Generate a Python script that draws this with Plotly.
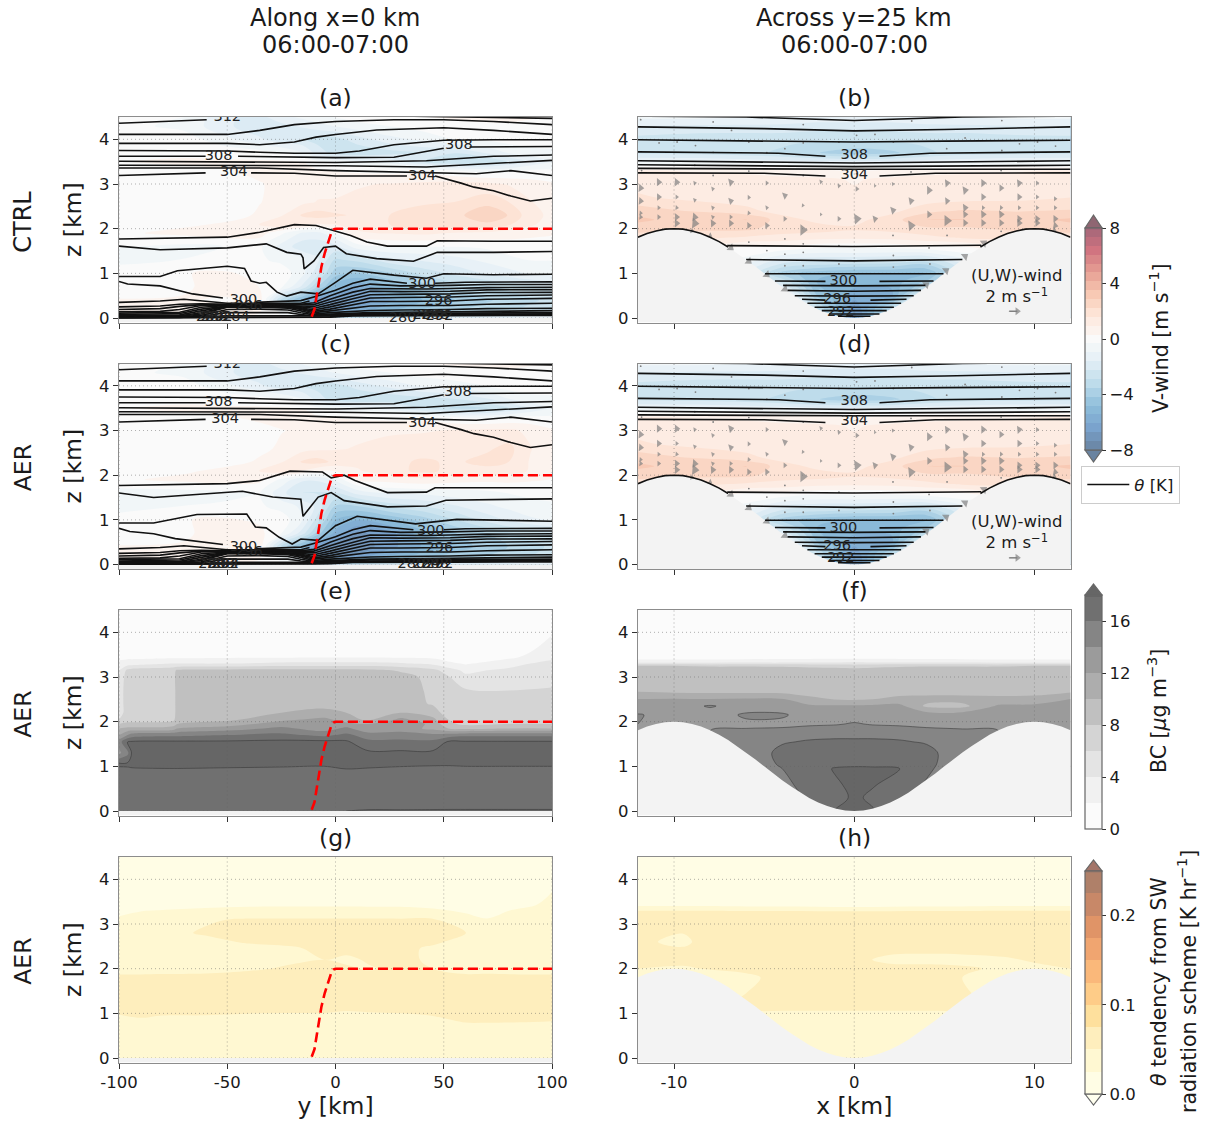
import plotly.graph_objects as go

W, H = 1207, 1124
FONT = "DejaVu Sans"
INK = "#1a1a1a"

# ---------- axes layout ----------
COL_X = [(119, 552), (638, 1070.5)]
ROW_TOP = [117, 363.5, 610, 857]
ROW_H = 205.5
Z_TICKS = [0, 1, 2, 3, 4]
Y_TICKS = [-100, -50, 0, 50, 100]
Y_TICK_TEXT = ["-100", "-50", "0", "50", "100"]
X_TICKS = [-10, 0, 10]
X_TICK_TEXT = ["-10", "0", "10"]
PANEL_NAMES = ["(a)", "(b)", "(c)", "(d)", "(e)", "(f)", "(g)", "(h)"]
ROW_NAMES = ["CTRL", "AER", "AER", "AER"]

# ---------- terrain and ridge ----------
TERRAIN_X = [-12, -11.5, -11, -10.5, -10, -9.5, -9, -8.5, -8, -7.5, -7, -6.5, -6, -5.5, -5, -4.5, -4, -3.5, -3, -2.5, -2, -1.5, -1, -0.5,
             0, 0.5, 1, 1.5, 2, 2.5, 3, 3.5, 4, 4.5, 5, 5.5, 6, 6.5, 7, 7.5, 8, 8.5, 9, 9.5, 10, 10.5, 11, 11.5, 12]
TERRAIN_Z = [1.81, 1.89, 1.95, 1.99, 2.0, 1.99, 1.95, 1.89, 1.81, 1.71, 1.59, 1.45, 1.31, 1.16, 1.0, 0.84, 0.69, 0.55, 0.41, 0.29, 0.19, 0.11, 0.05, 0.01,
             0.0, 0.01, 0.05, 0.11, 0.19, 0.29, 0.41, 0.55, 0.69, 0.84, 1.0, 1.16, 1.31, 1.45, 1.59, 1.71, 1.81, 1.89, 1.95, 1.99, 2.0, 1.99, 1.95, 1.89, 1.81]
RIDGE_Y = [-11, -9.7, -8.7, -6.5, -5, -3.5, -2, -1, 0, 100]
RIDGE_Z = [0.03, 0.2, 0.5, 1.15, 1.45, 1.7, 1.9, 1.98, 2.0, 2.0]

# ---------- V-wind, along-valley sections ----------
Y_V = [-100, -70, -50, -35, -25, -15, -8, 0, 10, 25, 40, 55, 70, 80, 90, 100]
Z_V = [4.5, 4.3, 4.0, 3.7, 3.5, 3.3, 3.0, 2.6, 2.3, 2.1, 1.9, 1.6, 1.3, 1.0, 0.7, 0.4, 0.2, 0.0]
V_A = [
 [0, -.3, -1.5, -1.8, -1.2, -.8, -.5, -.3, 0, 0, .3, .4, .5, .5, .4, .3],
 [-.1, -.5, -1.5, -2, -1.8, -1.5, -1.2, -.9, -.6, -.3, 0, .1, .2, .2, .1, 0],
 [0, 0, -.8, -1.5, -2, -2.2, -2.5, -2.5, -1.9, -1.2, -.8, -.3, -.2, 0, .1, .1],
 [.1, .2, .1, 0, -.3, -.9, -1.9, -2.5, -2.8, -2.5, -2.2, -2.2, -1.5, -.9, -.6, -.5],
 [.3, .4, .4, .4, .4, .3, -.2, -.5, -.8, -1.2, -2.2, -2.8, -2.8, -2.2, -1.5, -1],
 [.1, .2, .3, .4, .5, .5, .4, .3, .2, .1, .1, -.3, -.6, -.5, -.2, -.2],
 [0, .1, .2, .3, .4, .5, .7, .8, .9, 1, 1.1, 1.2, 1.1, .9, .6, .4],
 [-.1, 0, .1, .3, .5, .8, 1, 1, 1.1, 1.3, 1.5, 1.6, 2, 1.6, 1, .6],
 [-.2, 0, .1, .4, .9, 1.7, 1.9, 1.7, 1.5, 1.6, 1.9, 2, 2.8, 2.2, 1.2, .8],
 [-.2, .2, .4, 1, 1.5, 1.1, .9, 1, 1.1, 1.6, 2.1, 2, 2.1, 1.7, 1.1, .6],
 [.2, .5, .7, .6, -.2, -1.1, -1.2, -.3, .9, 1, 1.1, .9, .8, .6, .5, .4],
 [-.3, -.5, -.3, -.2, -1.2, -2, -2, -1.8, -.6, -.3, -.3, -.3, -.2, 0, 0, 0],
 [-.5, -.3, -.2, -.2, -.5, -.9, -1.5, -3, -2.7, -1.8, -1.5, -1.2, -.8, -.5, -.3, -.3],
 [0, .3, .4, .1, .1, -.8, -2.1, -3.9, -4.2, -3.6, -2.7, -2.1, -1.5, -1.2, -.9, -.8],
 [-.3, .2, .7, .3, -.2, -1.8, -3.6, -5.1, -6, -4.8, -3.9, -3.3, -3, -2.7, -2.4, -2.1],
 [.4, .4, .2, .7, -3, -5.1, -6.6, -6.9, -6.6, -5.6, -4.8, -4.2, -3.6, -3.3, -3, -2.7],
 [.9, .8, .7, .4, -.6, -2.1, -5.4, -6.6, -6, -5, -4.2, -3.6, -3.3, -3, -2.7, -2.4],
 [.4, .4, .4, .2, -.3, -.9, -2.2, -3, -3, -2.4, -2.1, -1.8, -1.5, -1.5, -1.2, -1.2],
]
V_C = [
 [0, -.3, -1.5, -1.8, -1.3, -.9, -.6, -.3, 0, 0, .3, .4, .5, .5, .4, .4],
 [-.1, -.5, -1.5, -2, -1.8, -1.5, -1.2, -.9, -.6, -.3, 0, .1, .2, .2, .1, 0],
 [0, 0, -.8, -1.5, -2, -2.3, -2.5, -2.5, -2, -1.4, -.9, -.6, -.3, 0, .1, .1],
 [.1, .2, .1, 0, -.3, -.9, -1.9, -2.6, -2.9, -2.8, -2.5, -2.3, -1.7, -1, -.6, -.5],
 [.3, .4, .4, .4, .4, .3, -.2, -.5, -.8, -1.2, -2.3, -3, -2.9, -2.3, -1.5, -1],
 [.1, .2, .3, .4, .5, .5, .4, .3, .2, .1, .1, -.3, -.5, -.3, -.2, -.2],
 [-.1, 0, .1, .2, .3, .4, .5, .7, .8, .9, .9, 1, 1.1, 1.1, .8, .4],
 [-.2, -.1, 0, .2, .4, .7, .8, .9, 1, 1.1, 1.3, 1.3, 1.5, 1.8, 1, .5],
 [-.3, -.1, .1, .4, .9, 1.7, 1.9, 1.4, 1.1, 1.4, 1.7, 1.5, 1.8, 1.6, .9, .5],
 [-.2, .2, .5, 1, 1.4, .9, .4, .4, .9, 1.3, 1.8, 1.4, 1.4, 1.3, .9, .5],
 [.2, .5, .7, .5, -.5, -1.5, -1.5, -.8, .5, .6, .8, .6, .5, .5, .4, .3],
 [-.6, -.6, -.5, -.3, -1.4, -2.3, -2.3, -2.3, -1.4, -.9, -.8, -.6, -.5, -.3, -.2, 0],
 [-.6, -.3, -.2, -.2, -.6, -1.1, -1.8, -3.6, -3.6, -2.7, -2.3, -1.7, -1.1, -.8, -.5, -.5],
 [0, .3, .4, .2, .1, -1, -2.6, -4.8, -5.4, -4.8, -3.9, -2.9, -2, -1.5, -1.1, -.9],
 [-.3, .2, .7, .5, -.3, -2, -3.9, -5.7, -6.9, -6.3, -5.1, -4.2, -3.5, -3, -2.6, -2.3],
 [.4, .4, .3, .7, -3, -5.1, -6.6, -7.2, -7.2, -6.3, -5.4, -4.5, -3.9, -3.5, -3.2, -2.7],
 [.9, .8, .7, .4, -.6, -2.1, -5.4, -7, -6.6, -5.4, -4.5, -3.9, -3.5, -3.2, -2.9, -2.4],
 [.4, .4, .4, .2, -.3, -.9, -2.2, -3, -3, -2.4, -2.1, -1.8, -1.5, -1.5, -1.2, -1.2],
]

# ---------- V-wind, across-valley section ----------
X_V = [-12, -9, -6, -4, -2, 0, 2, 4, 6, 9, 12]
Z_VX = [4.5, 4.2, 3.9, 3.7, 3.5, 3.38, 3.3, 3.1, 2.7, 2.4, 2.2, 2.0, 1.8, 1.6, 1.4, 1.2, 1.0, 0.8, 0.5, 0.25, 0.0]
V_B = [
 [-.8, -.8, -.9, -1, -1.2, -1.2, -1.2, -1, -.9, -.8, -.8],
 [-2, -2.1, -2.1, -2.1, -2.2, -2.2, -2.2, -2.1, -2.1, -2, -2],
 [-2.6, -2.7, -2.8, -2.8, -3, -3.1, -3, -2.8, -2.8, -2.7, -2.6],
 [-2.4, -2.5, -2.7, -3, -3.5, -3.9, -3.7, -3, -2.6, -2.5, -2.4],
 [-1, -1, -1.2, -1.3, -1.5, -1.5, -1.5, -1.3, -1.2, -1, -1],
 [.2, .2, .1, 0, -.2, -.3, -.2, 0, .1, .2, .2],
 [1, .9, .8, .7, .5, .3, .5, .7, .8, .9, 1],
 [1.3, 1.3, 1.2, 1.1, 1.1, .9, 1.1, 1.2, 1.2, 1.2, 1.3],
 [1.7, 1.4, 1.2, 1.1, 1.1, 1.1, 1.1, 1.2, 1.3, 1.4, 1.6],
 [2.6, 2.2, 1.8, 1.3, 1.2, 1.2, 1.4, 2, 2.3, 2.2, 2.3],
 [3, 2.6, 2.9, 1.9, 1.4, 1.4, 1.9, 2.9, 2.9, 2.6, 3],
 [2.6, 2.4, 2.4, 1.9, 1.9, 1.7, 1.8, 2.1, 2.1, 2.4, 2.6],
 [1.8, 1.8, 1.5, 1.4, 1.2, 1.1, 1.2, 1.4, 1.7, 1.8, 1.8],
 [1, 1, .3, .2, -.1, -.1, -.1, .2, .3, 1, 1],
 [0, 0, -.2, -1, -1.3, -1.3, -1.4, -1.5, -.6, 0, 0],
 [0, 0, -1, -2.4, -2.8, -3, -3.1, -3.5, -1.8, 0, 0],
 [0, 0, -1.5, -3.8, -4.6, -4.9, -4.9, -4.9, -2.3, 0, 0],
 [0, 0, -1.5, -2.3, -4.9, -5.2, -5.2, -4, -1.5, 0, 0],
 [0, 0, .4, .2, -4.3, -5.8, -5.8, -.9, 0, 0, 0],
 [0, 0, .4, .4, -3, -6.6, -3.6, .4, 0, 0, 0],
 [0, 0, 0, 0, -3, -7, -3, 0, 0, 0, 0],
]

# ---------- black carbon ----------
Y_E = [-100, -96, -94, -75, -73, -50, -25, -5, 5, 15, 30, 45, 52, 60, 80, 100]
Z_E = [4.5, 3.6, 3.45, 3.3, 3.15, 3.0, 2.7, 2.4, 2.2, 2.05, 1.95, 1.85, 1.7, 1.55, 1.3, 1.05, 0.92, 0.6, 0.1, 0.0]
BC_E = [
 [1] * 16,
 [1, 1, 1, 1, 1, 1, 1, 1, 1, 1, 1, 1, 1, 1, 1.2, 2.6],
 [1.5, 1.5, 1.5, 1.5, 1.5, 1.6, 1.7, 1.8, 1.8, 1.8, 1.7, 1.5, 1, 1, 1.6, 3.2],
 [2.5, 3, 3, 4, 4, 4, 4.5, 4.5, 4.5, 4.5, 4.2, 3.5, 2.5, 1.8, 3, 5],
 [4, 6.5, 7, 7.5, 8.3, 8.5, 8.7, 8.7, 8.6, 8.5, 7.8, 6.6, 5, 3.5, 4.5, 5.3],
 [4.5, 7, 7, 7.2, 9, 9, 9, 9, 9, 8.8, 8.6, 7.5, 6.2, 4.5, 5, 5.3],
 [5, 7, 7, 7, 9, 9, 9, 9, 9, 8.3, 8.5, 7.8, 7, 6.2, 6, 6.2],
 [5, 7, 7, 7, 9, 9, 9.2, 9.4, 9.5, 8.5, 9, 7.8, 7, 6.6, 6.4, 6.4],
 [5, 7, 7, 7, 9, 9, 10, 10.5, 10, 8.8, 10, 9, 7, 6.8, 6.6, 6.5],
 [6, 7.2, 7.2, 7.5, 9, 9.5, 11.5, 12.5, 11, 9.5, 12.5, 10.5, 8, 7, 7, 7],
 [8, 8.5, 8.5, 9, 10, 11, 13, 13.5, 12.5, 12, 13.5, 11.5, 8.5, 7.5, 8, 8],
 [10, 10.5, 10.5, 11, 12, 13, 14.5, 13, 14.5, 12.5, 13, 11.5, 10, 9.5, 10, 10],
 [12, 14, 15, 15.5, 15.5, 16, 16.5, 15.5, 16.5, 15, 15, 14.5, 15, 15.5, 15.5, 15.5],
 [15, 18.2, 18.2, 18.3, 18.3, 18.3, 18.5, 18.5, 18.3, 16.5, 16.5, 16.5, 18.2, 18.2, 18.2, 18.2],
 [13.5, 15.5, 18.3, 18.5, 18.5, 18.5, 18.6, 18.6, 18.5, 18.4, 18.4, 18.4, 18.5, 18.5, 18.5, 18.5],
 [18.4, 18.4, 18.5, 18.6, 18.6, 18.5, 18.4, 18.3, 18.5, 18.4, 18.3, 18.2, 18.2, 18.3, 18.3, 18.3],
 [17.5, 17.6, 17.7, 17.8, 17.8, 17.7, 17.6, 17.5, 17.9, 17.8, 17.6, 17.5, 17.4, 17.5, 17.5, 17.5],
 [17, 17.1, 17.1, 17.2, 17.2, 17.2, 17.3, 17.8, 17.4, 17.3, 17.2, 17.1, 17.1, 17.1, 17.3, 17.5],
 [17, 17, 17.1, 17.2, 17.2, 17.3, 17.7, 17.9, 17.4, 17.3, 17, 17, 17.1, 17.1, 17.1, 17.1],
 [17.2, 17.2, 17.2, 17.2, 17.2, 17.1, 17.3, 17.6, 18, 18.3, 18.4, 18.5, 18.5, 18.5, 18.5, 18.5],
]
X_F = [-12, -10, -8, -6, -4, -2.5, -1, 0, 1, 2.5, 4, 6, 8, 10, 12]
Z_F = [4.5, 3.6, 3.42, 3.33, 3.25, 3.15, 2.7, 2.5, 2.35, 2.15, 1.95, 1.8, 1.55, 1.3, 1.05, 0.95, 0.6, 0.3, 0.0]
BC_F = [
 [1] * 15,
 [1] * 15,
 [1.4, 1.4, 1.4, 1.5, 1.6, 1.6, 1.7, 1.7, 1.7, 1.6, 1.6, 1.5, 1.4, 1.4, 1.4],
 [3.5, 3.5, 3.4, 3.6, 3.6, 3.8, 3.8, 4, 3.8, 3.8, 3.6, 3.6, 3.4, 3.5, 3.5],
 [8.1, 8, 7.8, 7.8, 7.7, 7.4, 7.2, 7, 7.2, 7.6, 7.8, 7.8, 7.8, 8, 8.1],
 [9, 9, 9, 9, 9, 9, 9, 8.8, 9, 9, 9, 9, 9, 9, 9],
 [9.6, 9.2, 9.1, 9, 9, 9, 9, 9, 9, 9, 9, 9, 9, 9.2, 9.4],
 [12.1, 12.2, 12.1, 12.3, 12.2, 10.5, 9.9, 9.8, 10, 10.6, 10.8, 10.8, 10.6, 10.6, 12.1],
 [12.5, 13, 14.2, 13, 12.8, 12.4, 12.3, 12.3, 12.4, 12.6, 9.6, 9.4, 12.3, 12.5, 12.5],
 [14.2, 13, 13, 14.3, 14.3, 13, 13, 13, 13, 13.2, 13.2, 13.2, 13, 12.8, 13.8],
 [14, 13.5, 13.5, 13.6, 13.4, 13.6, 13.8, 14.2, 13.8, 13.6, 13.4, 13.4, 13.4, 13.5, 13.5],
 [14, 14, 14, 14.2, 14.5, 15, 15.2, 15.2, 15.2, 15, 14.5, 14.2, 14, 14, 14],
 [14, 14, 14, 14.5, 15.8, 16.2, 16.3, 16.3, 16.3, 16.2, 15.8, 14.5, 14, 14, 14],
 [14, 14, 14, 14.5, 16.6, 16.8, 16.8, 16.8, 16.8, 17, 16.7, 14.5, 14, 14, 14],
 [14, 14, 14, 14.5, 16.3, 17, 17.4, 17.6, 17.5, 17.2, 16.6, 14.5, 14, 14, 14],
 [14, 14, 14, 14.5, 16, 17, 18.2, 18.3, 18.3, 18.1, 16.4, 14.5, 14, 14, 14],
 [14, 14, 14, 14.5, 15.5, 16.7, 17.8, 18.4, 18.2, 17.2, 15.8, 14.5, 14, 14, 14],
 [14, 14, 14, 14.5, 15.5, 16.2, 17.2, 18.4, 17.6, 16.4, 15.5, 14.5, 14, 14, 14],
 [14, 14, 14, 14.5, 15.5, 16.2, 18.2, 18.4, 18.2, 16.4, 15.5, 14.5, 14, 14, 14],
]

# ---------- shortwave tendency ----------
Y_G = [-100, -90, -80, -60, -40, -20, -5, 5, 15, 30, 45, 60, 70, 85, 100]
Z_G = [4.5, 3.6, 3.42, 3.3, 3.1, 2.8, 2.6, 2.45, 2.2, 2.0, 1.85, 1.3, 1.05, 0.9, 0.75, 0.0]
SW_G = [
 [.012] * 15,
 [.012, .012, .012, .012, .012, .012, .012, .012, .012, .012, .012, .012, .012, .014, .027],
 [.016, .018, .018, .02, .022, .022, .022, .022, .022, .022, .02, .018, .016, .02, .03],
 [.02, .024, .026, .03, .033, .034, .034, .034, .033, .032, .028, .022, .018, .028, .032],
 [.028, .034, .038, .048, .052, .052, .052, .052, .052, .052, .052, .032, .026, .03, .032],
 [.03, .042, .045, .052, .055, .056, .056, .056, .056, .056, .055, .051, .04, .035, .035],
 [.03, .035, .04, .045, .052, .054, .056, .056, .056, .056, .054, .042, .038, .035, .035],
 [.03, .035, .035, .04, .044, .048, .054, .056, .056, .056, .046, .04, .038, .035, .035],
 [.03, .035, .035, .038, .04, .047, .05, .046, .052, .056, .046, .04, .038, .035, .035],
 [.035, .037, .038, .04, .047, .053, .055, .053, .048, .055, .05, .042, .04, .038, .038],
 [.052, .052, .053, .054, .056, .056, .056, .056, .056, .056, .052, .052, .053, .052, .052],
 [.058] * 15,
 [.052, .054, .054, .055, .053, .052, .052, .05, .051, .052, .055, .056, .056, .056, .056],
 [.048, .05, .048, .047, .045, .045, .045, .045, .045, .046, .048, .055, .056, .056, .054],
 [.046, .044, .042, .042, .042, .042, .042, .042, .042, .042, .042, .048, .048, .047, .046],
 [.04] * 15,
]
X_H = [-12, -9.5, -8.5, -6, -4, -2, 0, 2, 4, 6, 8.5, 10, 12]
Z_H = [4.5, 3.45, 3.38, 3.28, 3.0, 2.6, 2.4, 2.2, 2.0, 1.8, 1.1, 0.95, 0.0]
SW_H = [
 [.012] * 13,
 [.013] * 13,
 [.03, .03, .03, .028, .027, .026, .025, .026, .027, .028, .03, .03, .03],
 [.054, .054, .054, .053, .053, .052, .052, .052, .053, .053, .054, .054, .054],
 [.056] * 13,
 [.054, .045, .055, .056, .056, .056, .056, .056, .056, .056, .056, .056, .056],
 [.054, .054, .055, .056, .056, .056, .055, .054, .053, .054, .055, .055, .054],
 [.054, .054, .055, .056, .056, .056, .055, .045, .044, .044, .048, .052, .054],
 [.05, .048, .05, .054, .056, .056, .056, .056, .056, .053, .046, .046, .05],
 [.048, .048, .045, .046, .056, .056, .056, .056, .056, .05, .046, .046, .048],
 [.046, .046, .046, .054, .053, .053, .053, .053, .053, .053, .046, .046, .046],
 [.042] * 13,
 [.042] * 13,
]

# ---------- potential temperature lines, along-valley ----------
TH_UPPER = [
 ([-100, -59.5, None, 20, 50, 73, 100], [4.36, 4.44, None, 4.53, 4.51, 4.49, 4.47]),
 ([-100, -50, -35, -19, 0, 27, 50, 73, 100], [4.11, 4.11, 4.20, 4.33, 4.40, 4.44, 4.44, 4.40, 4.33]),
 ([-100, -50, -35, -19, -9, 0, 19, 50, 73, 100], [3.91, 3.91, 3.88, 3.94, 4.05, 4.11, 4.21, 4.26, 4.20, 4.11]),
 ([-100, -50, -35, -19, 0, 11, 27, 50, 73, 100], [3.75, 3.74, 3.71, 3.69, 3.69, 3.74, 3.88, 3.98, 3.99, 3.99]),
 ([-100, -60, None, -45, -19, 0, 27, 50, None, 62, 100], [3.62, 3.62, None, 3.62, 3.61, 3.59, 3.60, 3.80, None, 3.83, 3.84]),
 ([-100, -35, 0, 42, 58, 73, 100], [3.51, 3.48, 3.48, 3.52, 3.58, 3.62, 3.65]),
 ([-100, -35, 0, 42, 50, 73, 100], [3.42, 3.42, 3.41, 3.38, 3.40, 3.47, 3.53]),
 ([-100, -35, 0, 42, 65, 81, 100], [3.36, 3.36, 3.30, 3.25, 3.23, 3.30, 3.19]),
 ([-100, -60, None, -39, -19, 0, 33, None, 46, 50, 58, 64, 73, 81, 90, 100],
  [3.19, 3.25, None, 3.25, 3.24, 3.18, 3.18, None, 3.18, 3.13, 3.02, 2.93, 2.85, 2.73, 2.62, 2.68]),
]
TH_MID_A = [
 ([-100, -50, -35, -19, -9, 0, 7, 14.5, 24, 42, 47, 73, 100], [1.77, 1.81, 1.92, 2.09, 2.07, 1.94, 1.85, 1.70, 1.61, 1.61, 1.73, 1.72, 1.72]),
 ([-100, -81, -50, -32, -22.5, -16, -15, -14.5, -10, -5.5, 0, 5, 19, 36, 47, 73, 100],
  [1.61, 1.53, 1.57, 1.66, 1.47, 1.43, 1.35, 1.10, 1.28, 1.58, 1.61, 1.44, 1.33, 1.27, 1.47, 1.47, 1.49]),
 ([-100, -81, -73, -50, -42, -39, -35, -32, -27, -22.5, -16, -8, 0, 8, 27, 42, 50, 73, 100],
  [.93, .93, 1.06, 1.16, 1.11, .83, .78, .80, .58, .49, .58, .54, .80, 1.07, .96, .89, .99, .97, .98]),
 ([-100, -96, -81, -66, -52, None, -37, -16, -8, 0, 8, 16, 33, None, 46, 60, 100],
  [.82, .76, .72, .54, .45, None, .35, .39, .50, .62, .78, .87, .78, None, .78, .80, .81]),
]
TH_MID_C = [
 ([-100, -50, -35, -21, -6, -2, 4, 9, 24, 42, 46, 100], [1.77, 1.81, 1.88, 2.09, 2.07, 1.94, 2.0, 1.88, 1.61, 1.62, 1.72, 1.72]),
 ([-100, -84, -43, -29, -16, -15, -8, -2, 4, 24, 42, 51, 100],
  [1.60, 1.50, 1.64, 1.51, 1.46, 1.08, 1.51, 1.61, 1.43, 1.29, 1.31, 1.44, 1.47]),
 ([-100, -84, -64, -41, -37, -32, -26, -20, -16, -8, 0, 10, 37, 56, 100],
  [.93, .93, 1.12, 1.13, .84, .82, .61, .46, .57, .54, .87, 1.08, .91, 1.01, .97]),
 ([-100, -95, -84, -74, -52, None, -37, -16, -8, 0, 8, 16, 36, None, 50, 60, 100],
  [.81, .74, .69, .58, .45, None, .35, .39, .50, .62, .78, .87, .78, None, .78, .80, .81]),
]
LOW_Y_LEFT = [-100, -81, -72, -62, -50, -35, -22, -16, -10]
LOW_Z_LEFT = [
 [.25, .27, .31, .32, .31, .31, .30, .31, .34],
 [.19, .21, .26, .30, .30, .30, .29, .29, .30],
 [.14, .15, .19, .28, .29, .29, .28, .27, .26],
 [.11, .12, .13, .24, .28, .28, .27, .25, .22],
 [.08, .09, .10, .20, .27, .27, .26, .23, .18],
 [.06, .06, .07, .16, .26, .26, .25, .21, .15],
 [.05, .05, .05, .12, .25, .25, .24, .19, .12],
 [.035, .035, .04, .09, .24, .24, .22, .16, .09],
 [.02, .02, .025, .06, .19, .20, .18, .12, .07],
 [.015, .015, .015, .04, .12, .12, .12, .08, .05],
 [.01, .01, .01, .02, .05, .05, .05, .04, .04],
 [.008, .008, .008, .01, .01, .01, .01, .01, .02],
 [.006, .006, .006, .006, .006, .006, .006, .006, .01],
]
TOP_CLUSTER_Y = [-100, -81, -70, -62, -50, -35, -22, -16, -12]
TOP_CLUSTER_Z = [.35, .38, .42, .38, .33, .33, .33, .33, .38]
LOW_Y_RIGHT = [-2.5, 8, 16, 30, 42, 53, 70, 100]
LOW_Z_RIGHT = [
 [.50, .68, .76, .72, .72, .73, .75, .75],
 [.42, .58, .66, .65, .65, .66, .68, .69],
 [.36, .50, .60, .59, .59, .60, .63, .635],
 [.30, .43, .52, .53, .53, .54, .57, .575],
 [.25, .36, .45, .46, .46, .47, .50, .515],
 [.20, .30, .37, .37, .37, .38, .42, .44],
 [.16, .22, .27, .28, .28, .28, .31, .33],
 [.12, .15, .17, .18, .18, .19, .21, .22],
 [.09, .11, .12, .13, .13, .14, .15, .165],
 [.07, .09, .10, .105, .11, .11, .11, .12],
 [.05, .075, .08, .085, .09, .09, .09, .095],
 [.03, .06, .065, .07, .07, .075, .08, .08],
 [.02, .045, .05, .05, .055, .055, .06, .06],
]
LABEL_TEXT_A = ["312", "308", "304", "308", "304", "300", "296", "300", "280", "288", "292", "284", "296", "280", "284", "288", "292"]
LABEL_Y_A = [-50, -54, -47, 57, 40, 40, 47.6, -42.5, -58, -56, -54, -46, -40, 31, 42, 46, 48]
LABEL_Z_A = [4.49, 3.62, 3.25, 3.86, 3.18, .75, .37, .39, .01, .01, .01, .01, .25, .0, .05, .05, .03]
LABEL_TEXT_C = ["312", "308", "304", "308", "304", "300", "296", "300", "280", "288", "292", "284", "296", "280", "284", "288", "292"]
LABEL_Y_C = [-50, -54, -51, 56.5, 40, 44, 48, -42.5, -57, -53, -51, -51, -40, 35, 42, 46, 48]
LABEL_Z_C = [4.49, 3.62, 3.26, 3.86, 3.15, .75, .37, .39, .01, .01, .01, .01, .28, .0, .01, .01, .01]

# ---------- potential temperature lines, across-valley ----------
TH_CROSS = [
 ([-12, -6, 0, 6, 12], [4.52, 4.50, 4.42, 4.50, 4.52]),
 ([-12, -5, 0, 5, 12], [4.28, 4.24, 4.19, 4.22, 4.28]),
 ([-12, -5, 0, 5, 12], [3.99, 3.97, 3.94, 3.96, 3.98]),
 ([-12, -4.2, -1.6, None, 1.4, 4.2, 12], [3.72, 3.69, 3.62, None, 3.62, 3.69, 3.72]),
 ([-12, 0, 12], [3.52, 3.47, 3.52]),
 ([-12, 0, 12], [3.43, 3.39, 3.42]),
 ([-12, 0, 12], [3.35, 3.33, 3.33]),
 ([-12, -5, -1.6, None, 1.4, 4.5, 12], [3.25, 3.24, 3.18, None, 3.18, 3.24, 3.25]),
 ([-7.05, 0, 7.05], [1.62, 1.60, 1.63]),
 ([-6, 0, 6], [1.31, 1.28, 1.31]),
 ([-4.95, 0, 4.95], [.99, .985, .99]),
 ([-4.4, -1.6, None, 1.4, 4.4], [.83, .82, None, .82, .83]),
 ([-3.95, 0, 3.95], [.73, .72, .73]),
 ([-3.7, 0, 3.7], [.62, .60, .62]),
 ([-3.3, 0, 3.3], [.50, .49, .50]),
 ([-2.9, -1.6, None, 0.9, 2.9], [.42, .40, None, .40, .42]),
 ([-2.6, 0, 2.6], [.33, .33, .33]),
 ([-2.2, 0, 2.2], [.24, .24, .24]),
 ([-1.8, 0, 1.8], [.165, .165, .165]),
 ([-1.4, 0, 1.4], [.09, .09, .09]),
 ([-.9, 0, .9], [.04, .04, .04]),
 ([-12, -11.5, -11, -10.5, -10, -9.5, -9, -8.5, -8, -7.5, -7], [1.81, 1.89, 1.95, 1.99, 2.0, 1.99, 1.95, 1.89, 1.81, 1.71, 1.59]),
 ([7, 7.5, 8, 8.5, 9, 9.5, 10, 10.5, 11, 11.5, 12], [1.59, 1.71, 1.81, 1.89, 1.95, 1.99, 2.0, 1.99, 1.95, 1.89, 1.81]),
]
LABEL_TEXT_X = ["308", "304", "300", "296", "292"]
LABEL_X_X = [0, 0, -.6, -.95, -.75]
LABEL_Z_X = [3.65, 3.2, .82, .41, .13]

# ---------- (U,W) wind arrows: x [km], z [km], speed [m/s], slope [deg] ----------
ARROW_X = [-10.85, -9.85, -8.85, -6.85, -4.85, -1.85, 2.15, 5.15, 7.15, 9.15, 10.15,
           -0.85, 1.15, -11.85, -7.85, 0.15, 4.15, 6.15,
           -10.85, -9.85, -8.85, -6.85, -5.85, -3.85, 7.15, 8.15, 9.15, 10.15, 11.15,
           -11.85, 3.15, 5.15, -2.85,
           -10.85, -9.85, -7.85, -4.85, 6.15, 7.15, 8.15, 9.15, 10.15, 11.15, 2.15,
           -11.85, -5.85, -1.85, 4.15, 6.15, 7.15, 8.15,
           -11.85, -10.85, -9.85, -8.85, -7.85, -6.85,
           -3.85, -0.85, 0.15, 1.15, 9.15, 10.15, 11.15, 5.15,
           6.15, 7.15, 8.15, 9.15, 10.15,
           -9.85, -8.85, -7.85, -6.85, -5.85, -4.85, 3.15, 11.15, -2.85,
           -6.85, -5.85, -4.85, -3.85, 4.0, 5.1, 6.15, 7.2, -8.0, -9.0, 11.1]
ARROW_Z = [3.04, 3.04, 3.02, 3.04, 3.02, 3.05, 3.0, 3.02, 3.02, 3.02, 3.02,
           2.96, 2.96, 2.91, 2.89, 2.89, 2.86, 2.86,
           2.71, 2.71, 2.64, 2.62, 2.70, 2.74, 2.71, 2.91, 2.71, 2.71, 2.67,
           2.62, 2.62, 2.62, 2.52,
           2.47, 2.47, 2.47, 2.47, 2.47, 2.47, 2.47, 2.47, 2.47, 2.47, 2.41,
           2.35, 2.35, 2.32, 2.32, 2.32, 2.32, 2.32,
           2.26, 2.26, 2.26, 2.26, 2.26, 2.26,
           2.22, 2.22, 2.22, 2.22, 2.22, 2.22, 2.22, 2.18,
           2.13, 2.13, 2.13, 2.13, 2.13,
           2.12, 2.12, 2.12, 2.12, 2.07, 2.07, 2.07, 2.07, 1.97,
           1.57, 1.27, .97, .65, .75, 1.06, 1.38, 1.68, 1.85, 1.95, 1.97]
ARROW_SPEED = [1.3, 1.3, .8, 1.3, .8, .8, .7, 1.3, 1.3, 1.3, .8,
               .8, .6, 1.3, .8, .9, 1.4, 1.4,
               1.2, .8, .8, 1.2, .8, 1.2, 1.2, 1.2, 1.2, .8, .8,
               1.2, 1.3, 1.2, .7,
               .8, .8, .8, .8, 1.3, .8, .8, .8, .8, .8, 1.3,
               .8, .8, .6, 1.2, 1.2, 1.3, 1.3,
               .9, .9, 1.2, 1.4, .8, .8,
               .9, .9, 1.7, 1.2, 1.2, 1.2, 1.2, 1.8,
               1.2, 1.2, 1.2, 1.3, 1.2,
               1.3, 1.7, 1.3, 1.2, 1.1, 1.1, 1.7, 1.2, 1.8,
               1.4, 1.4, 1.4, 1.4, 1.4, 1.4, 1.4, 1.4, .9, .9, .9]
ARROW_SLOPE = [0, 0, 8, 12, 0, 10, 5, 5, 0, 5, 0,
               8, 0, -5, 10, 0, 0, 8,
               0, 0, 15, 15, 0, 20, 0, 0, 0, 0, 0,
               -5, 10, 5, -5,
               0, -5, 12, 8, 5, 0, -3, 0, 0, 0, 15,
               -5, -5, 0, 0, 3, 3, 3,
               -5, 0, 0, -5, 15, 0,
               0, 0, 5, 12, 0, 0, 0, 0,
               0, 0, 0, 0, 0,
               0, -5, 3, 0, 0, 0, 5, -10, 0,
               -40, -40, -40, -40, 38, 38, 38, 38, -30, -20, -25]
DOT_X = [-11.85, -7.83, -2.83, 3.19, 8.19, -6.81, .13, 1.15, 6.15, 9.17, -10.83, -9.83, -8.81, -5.85, -3.85, -2.83, -.85, 2.17, 5.13,
         10.17, 11.17, -7.83, -4.85, 8.19, -8.85, -11.8, -7.83, -5.85, -2.83, .13, 3.15, 8.15,
         -5.85, -3.85, -2.83, -.85, 2.15, 5.15, 8.15, -3.85, -4.85, -2.83, -.85, 2.17, 4.15, -3.85, -2.83, 4.2, 2.17, .13]
DOT_Z = [4.44, 4.39, 4.33, 4.41, 4.42, 4.2, 4.09, 4.11, 4.03, 3.9, 3.92, 3.94, 3.86, 3.94, 3.79, 3.92, 3.94, 3.94, 3.79,
         3.94, 3.85, 3.71, 3.7, 3.75, 3.42, 3.3, 3.19, 3.29, 3.19, 3.23, 3.27, 3.3,
         1.7, 1.77, 1.66, 1.62, 1.85, 1.85, 1.94, 1.43, 1.51, 1.47, 1.21, 1.4, 1.57, 1.17, 1.17, 1.21, 1.14, .99]
WIND_KEY_LINES = "(U,W)-wind<br>2 m s<sup>−1</sup>"
WIND_KEY_X = [8.6, 9.05]
WIND_KEY_Z = [0.15, 0.15]

# ---------- colours ----------
def blended(hexes, alpha):
    """Matplotlib-like translucent colours flattened over white."""
    out = []
    n = len(hexes) - 1
    for i, h in enumerate(hexes):
        r, g, b = int(h[1:3], 16), int(h[3:5], 16), int(h[5:7], 16)
        f = lambda v: round(v * alpha + 255 * (1 - alpha))
        out.append([i / n, f"rgb({f(r)},{f(g)},{f(b)})"])
    return out

RDBU = ["#053061", "#2166ac", "#4393c3", "#92c5de", "#d1e5f0", "#f7f7f7", "#fddbc7", "#f4a582", "#d6604d", "#b2182b", "#67001f"]
GREYS = ["#ffffff", "#f0f0f0", "#d9d9d9", "#bdbdbd", "#969696", "#737373", "#525252", "#252525", "#000000"]
YLORBR = ["#ffffe5", "#fff7bc", "#fee391", "#fec44f", "#fe9929", "#ec7014", "#cc4c02", "#993404", "#662506"]
CS_V, CS_BC, CS_SW = blended(RDBU, 0.6), blended(GREYS, 0.6), blended(YLORBR, 0.6)

def px(x): return x / W
def py(y): return 1 - y / H

def note(text, x, y, size, angle=0):
    return dict(text=text, xref="paper", yref="paper", x=px(x), y=py(y), xanchor="center", yanchor="middle",
                textangle=angle, showarrow=False, font=dict(size=size, family=FONT))

fig = go.Figure()
layout = dict(width=W, height=H, margin=dict(l=0, r=0, t=0, b=0, autoexpand=False), paper_bgcolor="white", plot_bgcolor="white",
              font=dict(family=FONT, size=16.5, color=INK), showlegend=True,
              legend=dict(x=px(1081), y=py(466), xanchor="left", yanchor="top", bgcolor="white",
                          bordercolor="#cccccc", borderwidth=1.3, itemwidth=42, font=dict(size=16.5, family=FONT),
                          tracegroupgap=0))
annotations, shapes = [], []

axes = {}
for r in range(4):
    for c in range(2):
        n = r * 2 + c + 1
        xa, ya = f"x{n}", f"y{n}"
        axes[(r, c)] = (xa, ya)
        xkw = dict(
            domain=[px(COL_X[c][0]), px(COL_X[c][1])], anchor=ya,
            range=[-100, 100] if c == 0 else [-12, 12],
            tickmode="array", tickvals=Y_TICKS if c == 0 else X_TICKS,
            ticktext=Y_TICK_TEXT if c == 0 else X_TICK_TEXT,
            showticklabels=r == 3, ticks="outside", ticklen=5, tickcolor="#333333", tickwidth=1,
            showline=True, mirror=True, linecolor="#8c8c8c", linewidth=1.3,
            showgrid=False, zeroline=False, tickfont=dict(size=16.5, family=FONT))
        if r == 3:
            xkw["title"] = dict(text="y [km]" if c == 0 else "x [km]", font=dict(size=23.5, family=FONT), standoff=6)
        ykw = dict(
            domain=[py(ROW_TOP[r] + ROW_H), py(ROW_TOP[r])], anchor=xa, range=[-0.1, 4.5],
            tickmode="array", tickvals=Z_TICKS, ticks="outside", ticklen=5, tickcolor="#333333", tickwidth=1,
            showline=True, mirror=True, linecolor="#8c8c8c", linewidth=1.3,
            showgrid=False, zeroline=False, tickfont=dict(size=16.5, family=FONT))
        if c == 0:
            ykw["title"] = dict(text="z [km]", font=dict(size=23.5, family=FONT), standoff=10)
        layout["xaxis" + ("" if n == 1 else str(n))] = xkw
        layout["yaxis" + ("" if n == 1 else str(n))] = ykw
        annotations.append(note(PANEL_NAMES[n - 1], sum(COL_X[c]) / 2, ROW_TOP[r] - 19, 23.5))
    annotations.append(note(ROW_NAMES[r], 23, ROW_TOP[r] + ROW_H / 2 + 2, 23.5 if r else 24, -90))

annotations += [
    note("Along x=0 km", 335, 18, 24), note("06:00-07:00", 335, 45, 24),
    note("Across y=25 km", 854, 18, 24), note("06:00-07:00", 854, 45, 24),
    note("V-wind [m s<sup>−1</sup>]", 1159, 338, 20.5, -90),
    note("BC [<i>μ</i>g m<sup>−3</sup>]", 1157, 711, 20.5, -90),
    note("<i>θ</i> tendency from SW", 1159, 982, 20.5, -90),
    note("radiation scheme [K hr<sup>−1</sup>]", 1187, 982, 20.5, -90),
]

def colorbar(x, ytop, ybot, ticks, texts):
    return dict(x=px(x), xanchor="left", xpad=0, y=py(ybot), yanchor="bottom", ypad=0,
                lenmode="pixels", len=ybot - ytop, thicknessmode="pixels", thickness=17,
                outlinecolor="#666666", outlinewidth=1.2, ticks="outside", ticklen=4, tickcolor="#333333",
                tickmode="array", tickvals=ticks, ticktext=texts, tickfont=dict(size=16.5, family=FONT))

def field(xv, zv, rows, ax, cs, lo, hi, step, cbar=None):
    fig.add_trace(go.Contour(x=xv, y=zv[::-1], z=rows[::-1], xaxis=ax[0], yaxis=ax[1], colorscale=cs, zmin=lo, zmax=hi,
                             autocontour=False, contours=dict(start=lo, end=hi, size=step, coloring="fill", showlines=False),
                             line=dict(width=0), showscale=cbar is not None, colorbar=cbar, showlegend=False,
                             hoverinfo="skip"))

def isolines(xv, zv, rows, ax, start, end, step):
    fig.add_trace(go.Contour(x=xv, y=zv[::-1], z=rows[::-1], xaxis=ax[0], yaxis=ax[1], autocontour=False,
                             contours=dict(start=start, end=end, size=step, coloring="none"),
                             line=dict(color="rgba(50,50,50,0.75)", width=0.7), showscale=False, showlegend=False,
                             hoverinfo="skip"))

def flatten(lines):
    xs, zs = [], []
    for a, b in lines:
        xs += list(a) + [None]
        zs += list(b) + [None]
    return xs, zs

def grid(ax, xticks, xr):
    xs, zs = [], []
    for t in xticks:
        xs += [t, t, None]
        zs += [-0.1, 4.5, None]
    for t in Z_TICKS:
        xs += [xr[0], xr[1], None]
        zs += [t, t, None]
    fig.add_trace(go.Scatter(x=xs, y=zs, xaxis=ax[0], yaxis=ax[1], mode="lines",
                             line=dict(color="rgba(100,100,100,0.5)", width=1, dash="1px,3px"),
                             showlegend=False, hoverinfo="skip"))

def theta(lines, ax, legend=False):
    xs, zs = flatten(lines)
    fig.add_trace(go.Scatter(x=xs, y=zs, xaxis=ax[0], yaxis=ax[1], mode="lines", line=dict(color="#111111", width=1.6),
                             connectgaps=False, name="<i>θ</i> [K]", showlegend=legend, hoverinfo="skip"))

def labels(xs, zs, texts, ax):
    fig.add_trace(go.Scatter(x=xs, y=zs, xaxis=ax[0], yaxis=ax[1], mode="text", text=texts, textposition="middle center",
                             textfont=dict(size=14.5, family=FONT, color="#222222"), showlegend=False, hoverinfo="skip"))

def left_decor(ax):
    grid(ax, Y_TICKS, [-100, 100])
    fig.add_trace(go.Scatter(x=[-100, 100, 100, -100, -100], y=[-0.1, -0.1, 0, 0, -0.1], xaxis=ax[0], yaxis=ax[1], mode="lines",
                             fill="toself", fillcolor="#f2f2f2", line=dict(width=0), showlegend=False, hoverinfo="skip"))

def ridge(ax):
    fig.add_trace(go.Scatter(x=RIDGE_Y, y=RIDGE_Z, xaxis=ax[0], yaxis=ax[1], mode="lines",
                             line=dict(color="#ff0000", width=2.6, dash="10px,5px"), showlegend=False, hoverinfo="skip"))

def terrain(ax):
    grid(ax, X_TICKS, [-12, 12])
    fig.add_trace(go.Scatter(x=TERRAIN_X + [12, -12, -12], y=TERRAIN_Z + [-0.1, -0.1, TERRAIN_Z[0]], xaxis=ax[0], yaxis=ax[1], mode="lines",
                             fill="toself", fillcolor="#f3f3f3", line=dict(width=0), showlegend=False, hoverinfo="skip"))

def arrows(ax):
    fig.add_trace(go.Scatter(x=DOT_X, y=DOT_Z, xaxis=ax[0], yaxis=ax[1], mode="markers",
                             marker=dict(size=1.8, color="#808080"), showlegend=False, hoverinfo="skip"))
    fig.add_trace(go.Scatter(x=ARROW_X, y=ARROW_Z, xaxis=ax[0], yaxis=ax[1], mode="markers",
                             marker=dict(symbol="triangle-right", color="#808080", line=dict(width=0),
                                         size=[s * 5.5 for s in ARROW_SPEED], angle=[-a for a in ARROW_SLOPE]),
                             showlegend=False, hoverinfo="skip"))
    fig.add_trace(go.Scatter(x=WIND_KEY_X, y=WIND_KEY_Z, xaxis=ax[0], yaxis=ax[1], mode="lines+markers",
                             line=dict(color="#808080", width=1.5),
                             marker=dict(symbol=["circle", "triangle-right"], color="#808080", size=[1, 7], line=dict(width=0)),
                             showlegend=False, hoverinfo="skip"))

# panels
V_CB = colorbar(1085, 228, 450, [-8, -4, 0, 4, 8], ["−8", "−4", "0", "4", "8"])
BC_CB = colorbar(1085, 595, 829, [0, 4, 8, 12, 16], ["0", "4", "8", "12", "16"])
SW_CB = colorbar(1085, 871, 1094, [0, .1, .2], ["0.0", "0.1", "0.2"])

low_lines = [(TOP_CLUSTER_Y, TOP_CLUSTER_Z)]
for zl, zr in zip(LOW_Z_LEFT, LOW_Z_RIGHT):
    low_lines.append((LOW_Y_LEFT + LOW_Y_RIGHT, zl + zr))

field(Y_V, Z_V, V_A, axes[(0, 0)], CS_V, -8, 8, 0.64)
left_decor(axes[(0, 0)])
theta(TH_UPPER + TH_MID_A + low_lines, axes[(0, 0)], legend=True)
labels(LABEL_Y_A, LABEL_Z_A, LABEL_TEXT_A, axes[(0, 0)])
ridge(axes[(0, 0)])

field(X_V, Z_VX, V_B, axes[(0, 1)], CS_V, -8, 8, 0.64, V_CB)
terrain(axes[(0, 1)])
arrows(axes[(0, 1)])
theta(TH_CROSS, axes[(0, 1)])
labels(LABEL_X_X, LABEL_Z_X, LABEL_TEXT_X, axes[(0, 1)])

field(Y_V, Z_V, V_C, axes[(1, 0)], CS_V, -8, 8, 0.64)
left_decor(axes[(1, 0)])
theta(TH_UPPER + TH_MID_C + low_lines, axes[(1, 0)])
labels(LABEL_Y_C, LABEL_Z_C, LABEL_TEXT_C, axes[(1, 0)])
ridge(axes[(1, 0)])

field(X_V, Z_VX, V_B, axes[(1, 1)], CS_V, -8, 8, 0.64)
terrain(axes[(1, 1)])
arrows(axes[(1, 1)])
theta(TH_CROSS, axes[(1, 1)])
labels(LABEL_X_X, LABEL_Z_X, LABEL_TEXT_X, axes[(1, 1)])

field(Y_E, Z_E, BC_E, axes[(2, 0)], CS_BC, 0, 18, 2)
isolines(Y_E, Z_E, BC_E, axes[(2, 0)], 18, 18, 2)
left_decor(axes[(2, 0)])
ridge(axes[(2, 0)])

field(X_F, Z_F, BC_F, axes[(2, 1)], CS_BC, 0, 18, 2, BC_CB)
isolines(X_F, Z_F, BC_F, axes[(2, 1)], 14, 18, 2)
terrain(axes[(2, 1)])

field(Y_G, Z_G, SW_G, axes[(3, 0)], CS_SW, 0, 0.25, 0.025)
left_decor(axes[(3, 0)])
ridge(axes[(3, 0)])

field(X_H, Z_H, SW_H, axes[(3, 1)], CS_SW, 0, 0.25, 0.025, SW_CB)
terrain(axes[(3, 1)])

# wind key text
for n in (1, 2):
    annotations.append(dict(text=WIND_KEY_LINES, xref=f"x{n*2}", yref=f"y{n*2}", x=9, y=0.72, showarrow=False,
                            xanchor="center", yanchor="middle", font=dict(size=16.5, family=FONT)))

# colour-bar end caps
def cap(x0, x1, y0, ytip, color):
    path = f"M {px(x0)},{py(y0)} L {px((x0 + x1) / 2)},{py(ytip)} L {px(x1)},{py(y0)} Z"
    shapes.append(dict(type="path", xref="paper", yref="paper", path=path, fillcolor=color,
                       line=dict(color="#666666", width=1.2)))

cap(1085, 1102, 228, 215, "rgb(143,102,114)")
cap(1085, 1102, 450, 462, "rgb(105,131,160)")
cap(1085, 1102, 595, 584, "rgb(102,102,102)")
cap(1085, 1102, 871, 860, "rgb(163,117,105)")
cap(1085, 1102, 1094, 1105, "rgb(255,255,239)")

layout["annotations"] = annotations
layout["shapes"] = shapes
fig.update_layout(**layout)
fig.write_html("out.html", config={"displayModeBar": False}, post_script="document.body.style.margin='0';")
